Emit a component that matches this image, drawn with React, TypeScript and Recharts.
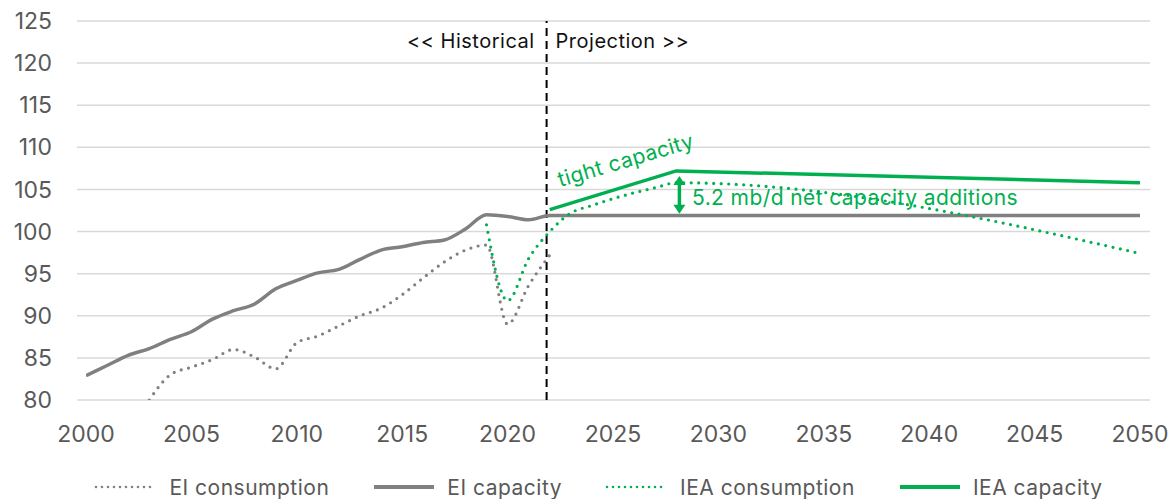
import {
  LineChart,
  Line,
  XAxis,
  YAxis,
  CartesianGrid,
  Legend,
  ReferenceLine,
  ReferenceDot,
} from "recharts";

const xTicks = [2000, 2005, 2010, 2015, 2020, 2025, 2030, 2035, 2040, 2045, 2050];
const yTicks = [80, 85, 90, 95, 100, 105, 110, 115, 120, 125];

const eiCapacityYears = [
  2000, 2001, 2002, 2003, 2004, 2005, 2006, 2007, 2008, 2009, 2010, 2011,
  2012, 2013, 2014, 2015, 2016, 2017, 2018, 2019, 2020, 2021, 2022, 2050,
];
const eiCapacity = [
  82.9, 84.1, 85.3, 86.1, 87.2, 88.1, 89.6, 90.6, 91.4, 93.2, 94.2, 95.1,
  95.5, 96.7, 97.8, 98.2, 98.7, 99.0, 100.3, 102.0, 101.8, 101.4, 101.9, 101.9,
];

const eiConsumptionYears = [
  2003, 2004, 2005, 2006, 2007, 2008, 2009, 2010, 2011, 2012, 2013, 2014,
  2015, 2016, 2017, 2018, 2019, 2020, 2021, 2022,
];
const eiConsumption = [
  80.0, 83.0, 83.9, 84.8, 86.0, 85.1, 83.7, 86.8, 87.6, 88.8, 90.0, 90.9,
  92.5, 94.5, 96.4, 97.8, 98.4, 89.0, 93.6, 97.2,
];

const ieaConsumptionYears = [2019, 2020, 2021, 2022, 2023, 2024, 2025, 2026, 2027, 2028, 2050];
const ieaConsumption = [100.8, 91.8, 96.8, 100.0, 102.2, 103.1, 103.9, 104.6, 105.2, 105.8, 97.4];

const ieaCapacityYears = [2022, 2028, 2050];
const ieaCapacity = [102.6, 107.2, 105.8];

const GRAY = "#808080";
const GREEN = "#00B050";
const FONT = "Inter, 'Liberation Sans', sans-serif";

const toPoints = (years: number[], values: number[]) =>
  years.map((year, i) => ({ year, value: values[i] }));

const series = [
  { name: "EI consumption", color: GRAY, dotted: true, data: toPoints(eiConsumptionYears, eiConsumption) },
  { name: "EI capacity", color: GRAY, dotted: false, data: toPoints(eiCapacityYears, eiCapacity) },
  { name: "IEA consumption", color: GREEN, dotted: true, data: toPoints(ieaConsumptionYears, ieaConsumption) },
  { name: "IEA capacity", color: GREEN, dotted: false, data: toPoints(ieaCapacityYears, ieaCapacity) },
];

function LegendBox() {
  return (
    <div
      style={{
        display: "flex",
        justifyContent: "center",
        alignItems: "center",
        gap: 43,
        height: 24,
        paddingLeft: 47,
        fontFamily: FONT,
        fontSize: 21,
        letterSpacing: 0.5,
        color: "#595959",
      }}
    >
      {series.map((s) => (
        <div key={s.name} style={{ display: "flex", alignItems: "center" }}>
          <svg width={64} height={10} style={{ marginRight: 11 }}>
            <line
              x1={2}
              y1={5}
              x2={62}
              y2={5}
              stroke={s.color}
              strokeWidth={s.dotted ? 2.6 : 4}
              strokeDasharray={s.dotted ? "0 6" : undefined}
              strokeLinecap={s.dotted ? "round" : "butt"}
            />
          </svg>
          <span>{s.name}</span>
        </div>
      ))}
    </div>
  );
}

function DoubleArrow(props: any) {
  const { x1, y1, x2, y2 } = props;
  const top = Math.min(y1, y2);
  const bottom = Math.max(y1, y2);
  return (
    <g>
      <line x1={x1} y1={top + 7} x2={x2} y2={bottom - 7} stroke={GREEN} strokeWidth={3.5} />
      <polygon points={`${x1 - 6},${top + 9} ${x1 + 6},${top + 9} ${x1},${top}`} fill={GREEN} />
      <polygon points={`${x1 - 6},${bottom - 9} ${x1 + 6},${bottom - 9} ${x1},${bottom}`} fill={GREEN} />
    </g>
  );
}

export default function App() {
  return (
    <div style={{ position: "absolute", left: 0, top: 0 }}>
      <LineChart width={1176} height={499} margin={{ top: 21, right: 26, left: 0, bottom: 0 }}>
        <CartesianGrid vertical={false} stroke="#d9d9d9" strokeWidth={1.5} />
        <XAxis
          dataKey="year"
          type="number"
          domain={[2000, 2050]}
          ticks={xTicks}
          allowDataOverflow
          padding={{ left: 9, right: 10 }}
          axisLine={false}
          tickLine={false}
          tickSize={0}
          tickMargin={26}
          height={75}
          tick={{ fill: "#595959", fontSize: 23, fontFamily: FONT }}
        />
        <YAxis
          type="number"
          domain={[80, 125]}
          ticks={yTicks}
          allowDataOverflow
          axisLine={false}
          tickLine={false}
          tickSize={0}
          tickMargin={25}
          width={77}
          tick={{ fill: "#595959", fontSize: 23, fontFamily: FONT }}
        />
        <Legend verticalAlign="bottom" height={24} content={() => <LegendBox />} />
        <ReferenceLine x={2021.85} stroke="#000" strokeWidth={2} strokeDasharray="8 5" />
        {series.map((s) => (
          <Line
            key={s.name}
            data={s.data}
            dataKey="value"
            name={s.name}
            type={s.name === "IEA capacity" ? "linear" : "monotone"}
            stroke={s.color}
            strokeWidth={s.dotted ? 3.2 : 3.5}
            strokeDasharray={s.dotted ? "0 7.5" : undefined}
            strokeLinecap={s.dotted ? "round" : "butt"}
            dot={false}
            activeDot={false}
            isAnimationActive={false}
          />
        ))}
        <ReferenceLine
          segment={[
            { x: 2028.15, y: 102.1 },
            { x: 2028.15, y: 106.6 },
          ]}
          shape={(p: any) => <DoubleArrow {...p} />}
        />
        <ReferenceDot
          x={2021.85}
          y={121.8}
          r={0}
          shape={(p: any) => (
            <g fontFamily={FONT} fontSize={20} letterSpacing={0.5} fill="#111">
              <text x={p.cx - 12} y={p.cy} textAnchor="end">
                {"<< Historical"}
              </text>
              <text x={p.cx + 9} y={p.cy} textAnchor="start">
                {"Projection >>"}
              </text>
            </g>
          )}
        />
        <ReferenceDot
          x={2025.6}
          y={108.5}
          r={0}
          shape={(p: any) => (
            <text
              x={p.cx}
              y={p.cy}
              textAnchor="middle"
              dominantBaseline="central"
              fontFamily={FONT}
              fontSize={21}
              letterSpacing={0.4}
              fill={GREEN}
              transform={`rotate(-16.5 ${p.cx} ${p.cy})`}
            >
              tight capacity
            </text>
          )}
        />
        <ReferenceDot
          x={2028.75}
          y={103.18}
          r={0}
          shape={(p: any) => (
            <text
              x={p.cx}
              y={p.cy}
              textAnchor="start"
              fontFamily={FONT}
              fontSize={21}
              letterSpacing={0.4}
              fill={GREEN}
            >
              5.2 mb/d net capacity additions
            </text>
          )}
        />
      </LineChart>
    </div>
  );
}
